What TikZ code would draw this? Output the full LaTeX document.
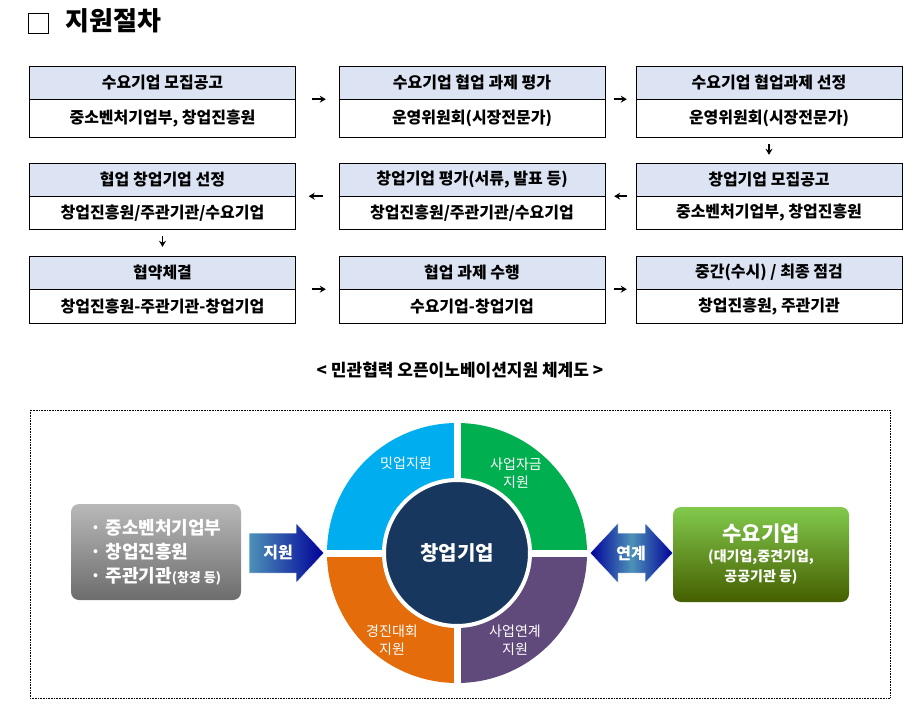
\documentclass[tikz,border=0pt]{standalone}
\usepackage{fontspec}
\setmainfont{Noto Sans CJK KR}
\usetikzlibrary{arrows.meta,positioning}
\definecolor{hdblue}{HTML}{DCE4F4}
\definecolor{qcyan}{HTML}{00ADEF}
\definecolor{qgreen}{HTML}{00AF50}
\definecolor{qorange}{HTML}{E46C0A}
\definecolor{qpurple}{HTML}{604A7B}
\definecolor{coreblue}{HTML}{17375E}
\tikzset{
  hd/.style={draw, fill=hdblue, minimum width=266pt, minimum height=33pt, inner sep=0pt,
    font=\fontsize{16}{18}\selectfont\bfseries},
  bd/.style={draw, fill=white, minimum width=266pt, minimum height=38pt, inner sep=0pt,
    below=0pt of #1, font=\fontsize{16}{18}\selectfont\bfseries},
  stepar/.style={-{Stealth[length=6pt,width=7pt]}, line width=1.6pt},
  qlabel/.style={text=white, align=center, font=\fontsize{14}{18}\selectfont}
}
\begin{document}
\begin{tikzpicture}[x=1pt,y=-1pt]
        \useasboundingbox (0,0) rectangle (919,720);

        % Title
        \draw[line width=0.8pt] (28,13) rectangle (48,33);
        \node[anchor=west, font=\fontsize{26}{28}\selectfont\bfseries] (title) at (62,21) {지원절차};

        % Row 1
        \node[hd] (h1) at (162.5,82.5) {수요기업 모집공고};
        \node[bd=h1] (b1) {중소벤처기업부, 창업진흥원};
        \node[hd] (h2) at (472,82.5) {수요기업 협업 과제 평가};
        \node[bd=h2] (b2) {운영위원회(시장전문가)};
        \node[hd] (h3) at (769,82.5) {수요기업 협업과제 선정};
        \node[bd=h3] (b3) {운영위원회(시장전문가)};

        % Row 2
        \node[hd] (h4) at (162.5,179.5) {협업 창업기업 선정};
        \node[bd=h4, minimum height=33pt] (b4) {창업진흥원/주관기관/수요기업};
        \node[hd] (h5) at (472,179.5) {창업기업 평가(서류, 발표 등)};
        \node[bd=h5, minimum height=33pt] (b5) {창업진흥원/주관기관/수요기업};
        \node[hd] (h6) at (769,179.5) {창업기업 모집공고};
        \node[bd=h6, minimum height=33pt] (b6) {중소벤처기업부, 창업진흥원};

        % Row 3
        \node[hd] (h7) at (162.5,272.5) {협약체결};
        \node[bd=h7, minimum height=34pt] (b7) {창업진흥원-주관기관-창업기업};
        \node[hd] (h8) at (472,272.5) {협업 과제 수행};
        \node[bd=h8, minimum height=34pt] (b8) {수요기업-창업기업};
        \node[hd] (h9) at (769,272.5) {중간(수시) / 최종 점검};
        \node[bd=h9, minimum height=34pt] (b9) {창업진흥원, 주관기관};

        % Arrows between the steps
        \draw[stepar, shorten <=16pt, shorten >=13pt] (h1.south east) -- (h2.south west);
        \draw[stepar, shorten <=9pt, shorten >=9pt] (h2.south east) -- (h3.south west);
        \draw[stepar, shorten <=6pt, shorten >=8pt] (b3.south) -- (h6.north);
        \draw[stepar, shorten <=9pt, shorten >=9pt] (h6.south west) -- (h5.south east);
        \draw[stepar, shorten <=16pt, shorten >=13pt] (h5.south west) -- (h4.south east);
        \draw[stepar, shorten <=6pt, shorten >=9pt] (b4.south) -- (h7.north);
        \draw[stepar, shorten <=16pt, shorten >=13pt] (h7.south east) -- (h8.south west);
        \draw[stepar, shorten <=9pt, shorten >=9pt] (h8.south east) -- (h9.south west);

        % Caption
        \node[font=\fontsize{17}{19}\selectfont\bfseries] (cap) at (460,370) {< 민관협력 오픈이노베이션지원 체계도 >};

        % Frame of the scheme
        \draw[densely dotted, line width=0.6pt] (30,410) rectangle (890,698);

        % Ring of support
        \coordinate (c) at (457,553);
        \fill[qcyan]   (c) -- ++(180:130) arc[start angle=180, end angle=270, radius=130] -- cycle;
        \fill[qgreen]  (c) -- ++(270:130) arc[start angle=270, end angle=360, radius=130] -- cycle;
        \fill[qpurple] (c) -- ++(0:130) arc[start angle=0, end angle=90, radius=130] -- cycle;
        \fill[qorange] (c) -- ++(90:130) arc[start angle=90, end angle=180, radius=130] -- cycle;
        \draw[white, line width=7pt] ([xshift=-135pt]c) -- ([xshift=135pt]c);
        \draw[white, line width=7pt] ([yshift=-135pt]c) -- ([yshift=135pt]c);
        \fill[coreblue, draw=white, line width=4pt] (c) circle[radius=73];
        \node[text=white, font=\fontsize{20}{22}\selectfont\bfseries] (core) at (c) {창업기업};
        \node[qlabel] (q1) at (406,463) {밋업지원};
        \node[qlabel] (q2) at (516,473) {사업자금\\지원};
        \node[qlabel] (q3) at (392,640) {경진대회\\지원};
        \node[qlabel] (q4) at (515,640) {사업연계\\지원};

        % Left and right boxes
        \node[rounded corners=8pt, top color=gray!55, bottom color=gray!85!black, minimum width=170pt,
          minimum height=96pt, text=white, align=left, font=\fontsize{18}{24}\selectfont\bfseries] (gov) at (156,552)
          {· 중소벤처기업부\\· 창업진흥원\\· 주관기관{\fontsize{13}{14}\selectfont(창경 등)}};
        \node[rounded corners=8pt, top color=green!40!olive!70, bottom color=olive!60!black!90!green,
          minimum width=176pt, minimum height=95pt, text=white, align=center,
          font=\fontsize{14}{20}\selectfont\bfseries] (dem) at (761,554.5)
          {{\fontsize{21}{24}\selectfont 수요기업}\\(대기업,중견기업,\\공공기관 등)};

        % Block arrows
        \shade[left color=blue!35!cyan!60!black!70, right color=blue!60!black, draw=white, line width=0.5pt]
          (249,533) -- (296,533) -- (296,523) -- (324,553) -- (296,583) -- (296,573) -- (249,573) -- cycle;
        \node[text=white, font=\fontsize{16}{18}\selectfont\bfseries] (sup) at (278,553) {지원};
        \shade[left color=blue!60!black, right color=blue!60!black, middle color=blue!35!cyan!60!black!70, draw=white, line width=0.5pt]
          (590,553) -- (618,523) -- (618,533) -- (645,533) -- (645,523) -- (673,553) -- (645,583) -- (645,573) -- (618,573) -- (618,583) -- cycle;
        \node[text=white, font=\fontsize{16}{18}\selectfont\bfseries] (link) at (631,553) {연계};
    \end{tikzpicture}
\end{document}
